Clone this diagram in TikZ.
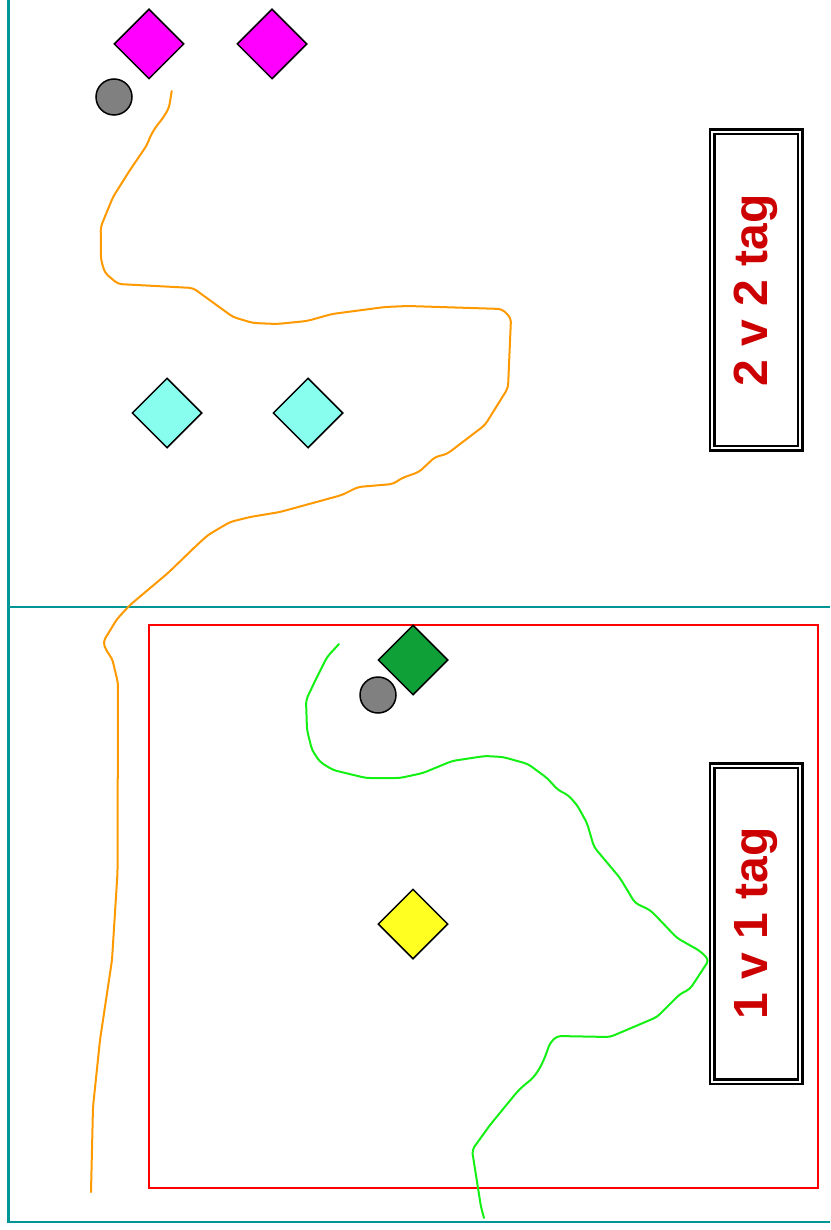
\documentclass[tikz,border=0pt]{standalone}
\usepackage{fontspec}
\setmainfont{Liberation Sans}
\usetikzlibrary{shapes.geometric}
\definecolor{frameteal}{RGB}{0,150,150}
\definecolor{pathorange}{RGB}{255,153,0}
\definecolor{pathgreen}{RGB}{20,240,20}
\definecolor{labelred}{RGB}{204,0,0}
\definecolor{tokmagenta}{RGB}{255,0,255}
\definecolor{tokcyan}{RGB}{136,255,238}
\definecolor{tokgreen}{RGB}{16,160,56}
\definecolor{tokyellow}{RGB}{255,255,34}
\definecolor{tokgray}{RGB}{128,128,128}
\tikzset{
  token/.style={diamond, draw=black, line width=1.5pt, minimum width=70pt, minimum height=70pt, inner sep=0pt},
  ball/.style={circle, draw=black, line width=1.5pt, fill=tokgray, minimum size=36pt, inner sep=0pt},
  tagbox/.style={rectangle, draw=black, line width=2.5pt, double=white, double distance=2pt, rotate=90,
     minimum width=316pt, minimum height=88pt, inner sep=0pt, text=labelred,
     font=\bfseries\fontsize{48}{52}\selectfont},
  framel/.style={frameteal, line width=2.4pt},
  trail/.style={line width=2pt, line join=round, line cap=round, rounded corners=4pt},
}
\begin{document}
\begin{tikzpicture}[x=1pt,y=-1pt]
\useasboundingbox (0,0) rectangle (830,1230);
% frame
\coordinate (ftl) at (8.5,0);
\coordinate (fbl) at (8.5,1222);
\coordinate (fbr) at (830,1222);
\coordinate (fml) at (8.5,607);
\coordinate (fmr) at (830,607);
\draw[framel] (ftl) -- (fbl) -- (fbr);
\draw[frameteal, line width=1.8pt] (fml) -- (fmr);
% red area
\draw[red, line width=2pt] (149,625) rectangle (818,1188);
% labels
\node[tagbox] (l2) at (756,290) {2 v 2 tag};
\node[tagbox] (l1) at (756,923.5) {1 v 1 tag};
% orange trail
\draw[trail, pathorange] (171.7,91) -- (169,108) -- (163,118) -- (155,128) -- (150,137) -- (147,145)
 -- (130,170) -- (113,197) -- (100.7,227) -- (101,260) -- (105,273) -- (118,284) -- (193,288)
 -- (233,317) -- (253,323) -- (277,324) -- (307,321) -- (332,314) -- (385,307) -- (408,306)
 -- (502,309) -- (511,318) -- (508,388) -- (485,425) -- (447,454) -- (435,457) -- (419,472)
 -- (402,478) -- (393,484) -- (358,487) -- (342,495) -- (280,512) -- (250,517) -- (230,522)
 -- (208,535) -- (197,545) -- (168,573) -- (130,605) -- (117,619) -- (103,642) -- (107,652)
 -- (112,658) -- (118,683) -- (117.5,873) -- (112,960) -- (100,1040) -- (93,1107) -- (91,1192);
% green trail
\draw[trail, pathgreen] (339,644) -- (327,657) -- (317,677) -- (306,700) -- (307,730) -- (312,750)
 -- (320,762) -- (333,770) -- (366,778) -- (400,778) -- (423,773) -- (452,761) -- (485,756)
 -- (503,757) -- (528,764) -- (547,778) -- (558,790) -- (568,795) -- (577,805) -- (587,823)
 -- (594,847) -- (620,878) -- (635,903) -- (650,910) -- (657,917) -- (677,938) -- (700,951)
 -- (709,960) -- (690,989) -- (680,994) -- (657,1017) -- (610,1037) -- (557,1036) -- (550,1043)
 -- (545,1057) -- (540,1068) -- (533,1078) -- (522,1087) -- (517,1092) -- (490,1125)
 -- (472,1150) -- (478,1188) -- (481,1207) -- (484,1218);
% tokens
\node[token, fill=tokmagenta] (m1) at (149,44) {};
\node[token, fill=tokmagenta] (m2) at (272,44) {};
\node[token, fill=tokcyan] (c1) at (167,413) {};
\node[token, fill=tokcyan] (c2) at (308,413) {};
\node[token, fill=tokgreen] (g1) at (413,660) {};
\node[token, fill=tokyellow] (y1) at (413,924) {};
\node[ball] (b1) at (114,97) {};
\node[ball] (b2) at (378,695) {};
\end{tikzpicture}
\end{document}
